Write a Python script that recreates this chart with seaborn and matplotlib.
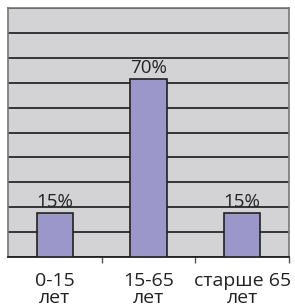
import matplotlib
matplotlib.use("Agg")
import matplotlib.pyplot as plt
import seaborn as sns
import pandas as pd

# data
groups = ["0-15\nлет", "15-65\nлет", "старше 65\nлет"]
shares = [17.7, 71.5, 17.7]          # bar heights on the 0-100 grid
share_labels = ["15%", "70%", "15%"]

df = pd.DataFrame({"group": groups, "share": shares})

sns.set_style("white")
plt.rcParams['font.family'] = ['Open Sans', 'DejaVu Sans']

fig = plt.figure(figsize=(2.95, 3.07), dpi=100)
ax = fig.add_axes([8 / 295, 1 - 257 / 307, 281 / 295, 249 / 307])
ax.set_facecolor("#d3d3d5")

sns.barplot(data=df, x="group", y="share", color="#9b97cb", width=0.39,
            edgecolor="#222222", linewidth=1.2, saturation=1, ax=ax, zorder=3)

ax.set_ylim(0, 100)
ax.set_xlim(-0.5, 2.5)
ax.set_yticks(range(0, 101, 10))
ax.yaxis.grid(True, color="#1a1a1a", linewidth=1.2)
ax.set_axisbelow(True)
ax.tick_params(axis="y", left=False, labelleft=False)

ax.set_xticks([0, 1, 2])
ax.set_xticklabels(groups, fontsize=14, color="#222222", linespacing=0.95)
ax.tick_params(axis="x", bottom=False, pad=7)
ax.set_xticks([0.5, 1.5, 2.5], minor=True)
ax.tick_params(axis="x", which="minor", bottom=True, length=4, width=1,
               color="#555555")
ax.set_xlabel("")
ax.set_ylabel("")

for side in ["left", "right", "top"]:
    ax.spines[side].set_color("#777777")
    ax.spines[side].set_linewidth(1.2)
ax.spines["bottom"].set_color("#222222")
ax.spines["bottom"].set_linewidth(1.3)

for i, (v, t) in enumerate(zip(shares, share_labels)):
    ax.text(i, v + 0.8, t, ha="center", va="bottom", fontsize=13.5,
            color="#222222", zorder=4)

fig.savefig("out.png", dpi=100)
plt.close(fig)
